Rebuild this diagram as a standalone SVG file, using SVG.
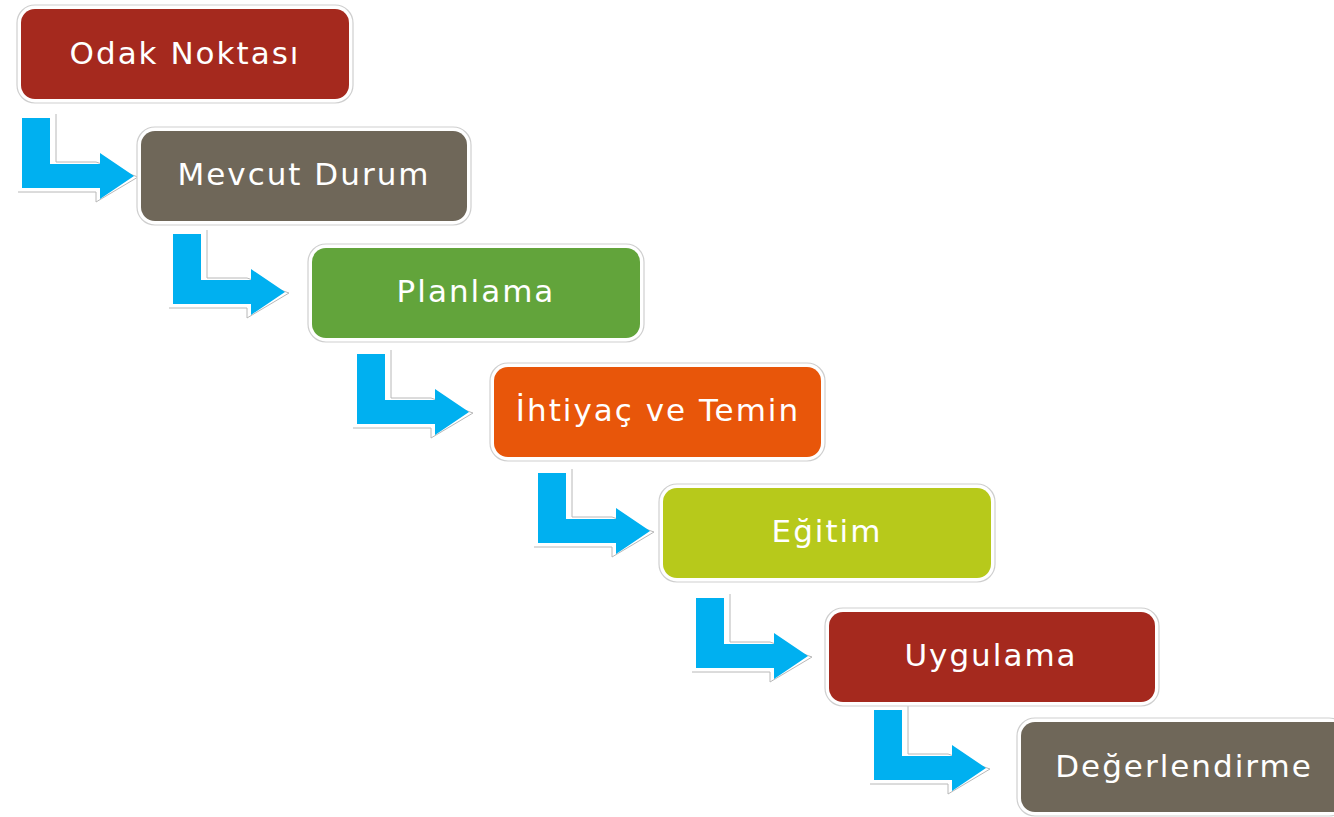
<svg xmlns="http://www.w3.org/2000/svg" width="1334" height="817" viewBox="0 0 1334 817">
<defs>
<style>
.box{stroke:none}
.rim{fill:#fff;stroke:#cfcfcf;stroke-width:1.2}
.lbl{font-family:"DejaVu Sans",sans-serif;font-size:31px;fill:#fff;text-anchor:middle;letter-spacing:2px}
.arr{fill:#00B0F0;stroke:none}
.aro{fill:none;stroke:#b8b8b8;stroke-width:1}
</style>
<g id="arrowShape">
<path class="aro" d="M34,-4 V44 H74 L116,59 L74,84 V74 H-4"/>
<path class="arr" d="M0,0 H28 V46 H78 V35 L112,58 L78,81 V70 H0 Z"/>
</g>
</defs>
<rect width="1334" height="817" fill="#fff"/>
<g id="connectors">
<use href="#arrowShape" transform="translate(22,118)"/>
<use href="#arrowShape" transform="translate(173,234)"/>
<use href="#arrowShape" transform="translate(357,354)"/>
<use href="#arrowShape" transform="translate(538,473)"/>
<use href="#arrowShape" transform="translate(696,598)"/>
<use href="#arrowShape" transform="translate(874,710)"/>
</g>
<g id="n1">
<rect class="rim" x="17" y="5" width="336" height="98" rx="18"/>
<rect class="box" x="21" y="9" width="328" height="90" rx="14" fill="#A5291E"/>
<text class="lbl" x="185" y="64">Odak Noktası</text>
</g>
<g id="n2">
<rect class="rim" x="137" y="127" width="334" height="98" rx="18"/>
<rect class="box" x="141" y="131" width="326" height="90" rx="14" fill="#6F6759"/>
<text class="lbl" x="304" y="185">Mevcut Durum</text>
</g>
<g id="n3">
<rect class="rim" x="308" y="244" width="336" height="98" rx="18"/>
<rect class="box" x="312" y="248" width="328" height="90" rx="14" fill="#62A43B"/>
<text class="lbl" x="476" y="302">Planlama</text>
</g>
<g id="n4">
<rect class="rim" x="490" y="363" width="335" height="98" rx="18"/>
<rect class="box" x="494" y="367" width="327" height="90" rx="14" fill="#E8560A"/>
<text class="lbl" x="658" y="421">İhtiyaç ve Temin</text>
</g>
<g id="n5">
<rect class="rim" x="659" y="484" width="336" height="98" rx="18"/>
<rect class="box" x="663" y="488" width="328" height="90" rx="14" fill="#B7C91B"/>
<text class="lbl" x="827" y="542">Eğitim</text>
</g>
<g id="n6">
<rect class="rim" x="825" y="608" width="334" height="98" rx="18"/>
<rect class="box" x="829" y="612" width="326" height="90" rx="14" fill="#A5291E"/>
<text class="lbl" x="991" y="666">Uygulama</text>
</g>
<g id="n7">
<rect class="rim" x="1017" y="718" width="330" height="98" rx="18"/>
<rect class="box" x="1021" y="722" width="330" height="90" rx="14" fill="#6F6759"/>
<text class="lbl" x="1184" y="777">Değerlendirme</text>
</g>
</svg>
